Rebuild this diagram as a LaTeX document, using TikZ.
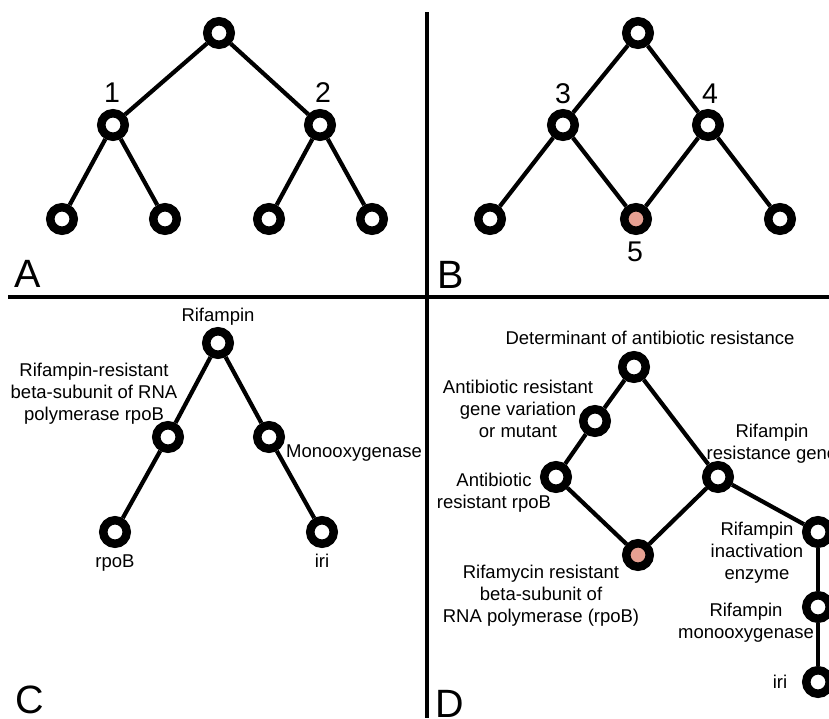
\documentclass[tikz,border=0pt]{standalone}
\usepackage{fontspec}
\setmainfont{Liberation Sans}
\definecolor{pinkc}{RGB}{230,160,146}
\begin{document}
\begin{tikzpicture}[x=1pt,y=-1pt,
  nd/.style={circle, draw=black, line width=8.5pt, fill=white, minimum size=23.5pt, inner sep=0pt},
  pk/.style={nd, fill=pinkc},
  ed/.style={line width=4.2pt},
  lbl/.style={font=\fontsize{18.5}{22}\selectfont, inner sep=0pt, align=center},
  num/.style={font=\fontsize{28.5}{32}\selectfont, inner sep=0pt, anchor=base},
  panel/.style={font=\fontsize{39.5}{42}\selectfont, inner sep=0pt, anchor=base},
  divider/.style={line width=3.2pt}]
\path[use as bounding box] (0,0) rectangle (829,718);
\clip (0,0) rectangle (829,718);
\fill[white] (0,0) rectangle (829,718);

% dividers
\coordinate (hl) at (8,297);
\coordinate (hr) at (829,297);
\coordinate (vt) at (427,12);
\coordinate (vb) at (427,718);
\draw[divider] (hl) -- (hr);
\draw[divider] (vt) -- (vb);

% ---------- Panel A ----------
\node[nd] (a0) at (219,33) {};
\node[nd] (a1) at (113,125) {};
\node[nd] (a2) at (320,125) {};
\node[nd] (a11) at (62,219) {};
\node[nd] (a12) at (165,219) {};
\node[nd] (a21) at (269,219) {};
\node[nd] (a22) at (372,219) {};
\draw[ed] (a0) -- (a1);
\draw[ed] (a0) -- (a2);
\draw[ed] (a1) -- (a11);
\draw[ed] (a1) -- (a12);
\draw[ed] (a2) -- (a21);
\draw[ed] (a2) -- (a22);
\node[num] (n1) at (112,102) {1};
\node[num] (n2) at (323,102.5) {2};
\node[panel] (pA) at (28,287.5) {A};

% ---------- Panel B ----------
\node[nd] (b0) at (638,33) {};
\node[nd] (b3) at (563,125) {};
\node[nd] (b4) at (708,125) {};
\node[nd] (b31) at (490,219) {};
\node[pk] (b5) at (636,219) {};
\node[nd] (b41) at (780,219) {};
\draw[ed] (b0) -- (b3);
\draw[ed] (b0) -- (b4);
\draw[ed] (b3) -- (b31);
\draw[ed] (b3) -- (b5);
\draw[ed] (b4) -- (b5);
\draw[ed] (b4) -- (b41);
\node[num] (n3) at (563,103) {3};
\node[num] (n4) at (710,103) {4};
\node[num] (n5) at (635,261) {5};
\node[panel] (pB) at (450.5,288) {B};

% ---------- Panel C ----------
\node[nd] (c0) at (218,343) {};
\node[nd] (c1) at (168,437) {};
\node[nd] (c2) at (269,437) {};
\node[nd] (c11) at (115,532) {};
\node[nd] (c21) at (322,532) {};
\draw[ed] (c0) -- (c1);
\draw[ed] (c0) -- (c2);
\draw[ed] (c1) -- (c11);
\draw[ed] (c2) -- (c21);
\node[lbl, anchor=base] (tc0) at (218,321) {Rifampin};
\node[lbl, anchor=north] (tc1) at (94,362.5) {Rifampin-resistant\\beta-subunit of RNA\\polymerase rpoB};
\node[lbl, anchor=base west] (tc2) at (286,457) {Monooxygenase};
\node[lbl, anchor=base] (tc11) at (115,567) {rpoB};
\node[lbl, anchor=base] (tc21) at (322,567) {iri};
\node[panel] (pC) at (30,713) {C};

% ---------- Panel D ----------
\node[nd] (d0) at (634,367) {};
\node[nd] (dgv) at (595,421) {};
\node[nd] (dar) at (556,477) {};
\node[pk] (dpk) at (638,555) {};
\node[nd] (drg) at (718,477) {};
\node[nd] (dia) at (818,532) {};
\node[nd] (dmo) at (818,607) {};
\node[nd] (diri) at (818,682) {};
\draw[ed] (d0) -- (dgv);
\draw[ed] (dgv) -- (dar);
\draw[ed] (dar) -- (dpk);
\draw[ed] (d0) -- (drg);
\draw[ed] (drg) -- (dpk);
\draw[ed] (drg) -- (dia);
\draw[ed] (dia) -- (dmo);
\draw[ed] (dmo) -- (diri);
\node[lbl, anchor=base] (td0) at (650,344) {Determinant of antibiotic resistance};
\node[lbl, anchor=north] (tdgv) at (518,379.5) {Antibiotic resistant\\gene variation\\or mutant};
\node[lbl, anchor=north] (tdar) at (494,472.5) {Antibiotic\\resistant rpoB};
\node[lbl, anchor=north] (tdpk) at (541,564.5) {Rifamycin resistant\\beta-subunit of\\RNA polymerase (rpoB)};
\node[lbl, anchor=north] (tdrg) at (772,423.5) {Rifampin\\resistance gene};
\node[lbl, anchor=north] (tdia) at (757,521.5) {Rifampin\\inactivation\\enzyme};
\node[lbl, anchor=north] (tdmo) at (746,602.5) {Rifampin\\monooxygenase};
\node[lbl, anchor=base] (tdiri) at (780,688) {iri};
\node[panel] (pD) at (450,717) {D};
\end{tikzpicture}
\end{document}
